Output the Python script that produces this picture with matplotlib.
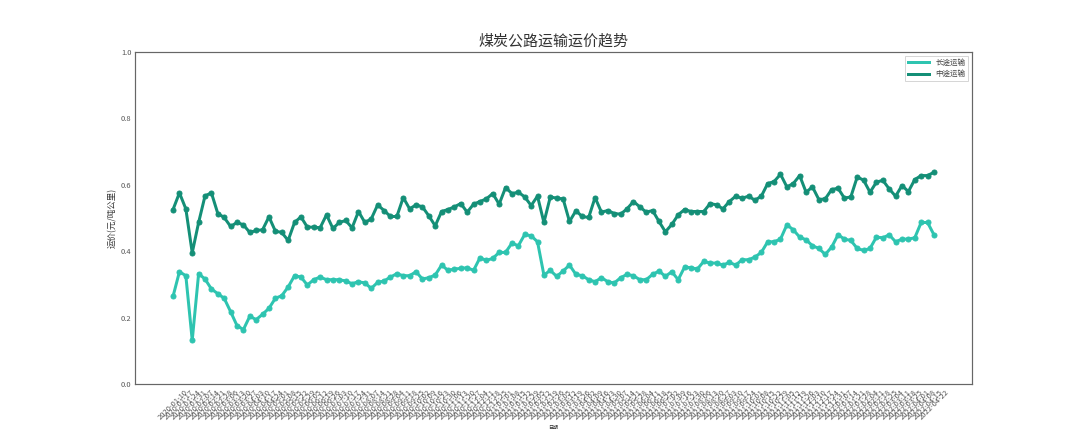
import matplotlib
matplotlib.use("Agg")
import matplotlib.pyplot as plt
from matplotlib.lines import Line2D
import pandas as pd

plt.rcParams['font.family'] = ['Noto Sans CJK SC', 'DejaVu Sans']
plt.rcParams['axes.unicode_minus'] = False

dates = [d.strftime('%Y-%m-%d') for d in pd.date_range('2020-01-10', periods=120, freq='7D')]

long_haul = [
    0.265, 0.339, 0.327, 0.133, 0.333, 0.317, 0.287, 0.273, 0.259, 0.219,
    0.177, 0.165, 0.205, 0.195, 0.211, 0.229, 0.259, 0.267, 0.293, 0.327,
    0.323, 0.299, 0.315, 0.323, 0.315, 0.315, 0.315, 0.311, 0.303, 0.309,
    0.305, 0.289, 0.307, 0.311, 0.323, 0.333, 0.327, 0.327, 0.339, 0.317,
    0.321, 0.329, 0.359, 0.343, 0.347, 0.349, 0.351, 0.343, 0.381, 0.373,
    0.379, 0.397, 0.397, 0.425, 0.417, 0.451, 0.447, 0.429, 0.329, 0.343,
    0.325, 0.341, 0.359, 0.331, 0.327, 0.315, 0.309, 0.321, 0.309, 0.305,
    0.321, 0.331, 0.327, 0.315, 0.315, 0.331, 0.341, 0.325, 0.339, 0.315,
    0.353, 0.351, 0.347, 0.370, 0.365, 0.365, 0.359, 0.367, 0.359, 0.375,
    0.375, 0.383, 0.397, 0.429, 0.429, 0.437, 0.480, 0.465, 0.443, 0.435,
    0.417, 0.409, 0.391, 0.413, 0.450, 0.437, 0.433, 0.409, 0.403, 0.409,
    0.443, 0.441, 0.450, 0.429, 0.437, 0.437, 0.441, 0.487, 0.487, 0.450,
]

mid_haul = [
    0.526, 0.576, 0.528, 0.396, 0.487, 0.567, 0.576, 0.514, 0.502, 0.475,
    0.487, 0.480, 0.457, 0.463, 0.465, 0.504, 0.461, 0.457, 0.433, 0.487,
    0.504, 0.473, 0.473, 0.471, 0.510, 0.469, 0.487, 0.493, 0.471, 0.520,
    0.487, 0.498, 0.540, 0.523, 0.505, 0.505, 0.562, 0.528, 0.540, 0.534,
    0.507, 0.477, 0.520, 0.526, 0.534, 0.544, 0.518, 0.542, 0.550, 0.558,
    0.574, 0.542, 0.592, 0.574, 0.578, 0.564, 0.538, 0.566, 0.487, 0.564,
    0.560, 0.558, 0.490, 0.522, 0.505, 0.502, 0.562, 0.518, 0.523, 0.514,
    0.512, 0.528, 0.550, 0.534, 0.518, 0.523, 0.490, 0.459, 0.481, 0.510,
    0.526, 0.520, 0.520, 0.520, 0.544, 0.540, 0.528, 0.550, 0.566, 0.560,
    0.566, 0.554, 0.566, 0.604, 0.610, 0.632, 0.594, 0.604, 0.628, 0.578,
    0.594, 0.556, 0.558, 0.586, 0.590, 0.560, 0.564, 0.624, 0.614, 0.578,
    0.608, 0.614, 0.588, 0.566, 0.598, 0.580, 0.616, 0.628, 0.628, 0.638,
]

series_names = ['长途运输', '中途运输']
series_colors = ['#2ec4b0', '#148f77']

fig, ax = plt.subplots(figsize=(15, 6), dpi=72)
fig.subplots_adjust(left=0.125, right=0.9, top=0.88, bottom=0.11)

x = list(range(len(dates)))
for vals, name, col in zip([long_haul, mid_haul], series_names, series_colors):
    ax.plot(x, vals, color=col, linewidth=3, marker='o', markersize=5)

ax.set_ylim(0, 1.0)
ax.set_yticks([0.0, 0.2, 0.4, 0.6, 0.8, 1.0])
ax.set_xticks(x)
ax.set_xticklabels(dates, rotation=45, fontsize=7.5, color='#555555')
ax.tick_params(axis='y', labelsize=7.5, colors='#555555')
ax.tick_params(length=0)

for s in ax.spines.values():
    s.set_color('#666666')
    s.set_linewidth(1.2)

ax.set_title('煤炭公路运输运价趋势', fontsize=15, color='#333333')
ax.set_ylabel('运价(元/吨公里)', fontsize=8.5, color='#333333')
ax.set_xlabel('日期', fontsize=5, color='#333333')

handles = [Line2D([0], [0], color=c, linewidth=3) for c in series_colors]
leg = ax.legend(handles, series_names, loc='upper right', fontsize=7.5,
                frameon=True, fancybox=False, handlelength=2.8)
leg.get_frame().set_edgecolor('#cccccc')
for t in leg.get_texts():
    t.set_color('#444444')

fig.savefig('out.png', dpi=72)
